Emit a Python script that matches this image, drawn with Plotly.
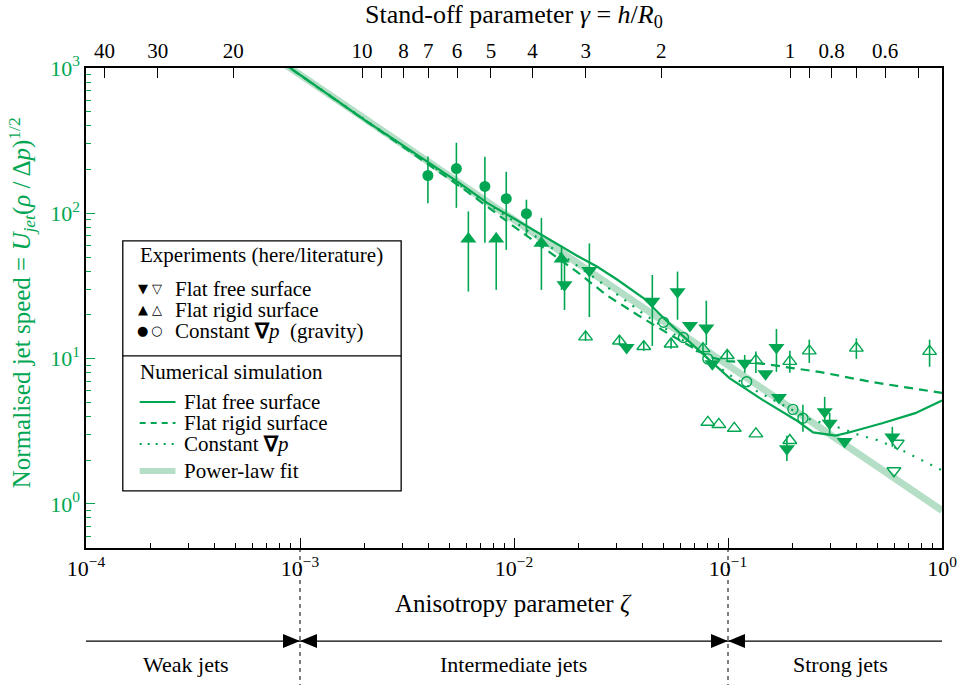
import math
import plotly.graph_objects as go

GREEN = "#00a651"
FIT = "#b4dfc6"
FONT = "Liberation Serif"

# ---------------- data ----------------
# power-law fit (U = 0.9 / zeta), end points
fit_zeta = [0.0008, 1.0]
fit_u = [1125, 0.9]

# numerical simulation: flat free surface
sim_free_zeta = [0.0008, 0.002, 0.003, 0.0055, 0.0075, 0.0096, 0.0129, 0.0197, 0.0244, 0.0303,
                 0.0404, 0.05, 0.0626, 0.0826, 0.1016, 0.145, 0.2074, 0.25, 0.318, 0.367,
                 0.525, 0.75, 1.0]
sim_free_u = [1130, 440, 296, 163, 118, 95, 74, 51, 43, 35,
              26, 19, 14, 9.75, 7.33, 5.2, 3.78, 3.1, 2.95, 3.1,
              3.59, 4.21, 5.15]

# numerical simulation: flat rigid surface
sim_rigid_zeta = [0.0008, 0.003, 0.00589, 0.01, 0.0197, 0.0272, 0.0379, 0.054, 0.0826, 0.1,
                  0.147, 0.2, 0.271, 0.468, 1.0]
sim_rigid_u = [1125, 290, 145, 81, 39.5, 27.2, 19.9, 14.5, 10.2, 9.6,
               9.2, 8.6, 8.07, 6.9, 5.8]

# numerical simulation: constant pressure gradient
sim_grav_zeta = [0.0008, 0.005, 0.01, 0.0244, 0.04, 0.0697, 0.1014, 0.1325, 0.244, 0.336,
                 0.408, 0.497, 0.661, 0.798, 1.0]
sim_grav_u = [1125, 175, 88, 35, 20.5, 11.8, 7.73, 6.1, 3.79, 3.32,
              2.98, 2.75, 2.31, 2.0, 1.70]

# experiments (here): flat free surface
free_here_zeta = [0.01722, 0.0225, 0.0336, 0.0443, 0.0581, 0.0664, 0.0792, 0.0845, 0.1197, 0.1497,
                  0.1684, 0.173, 0.1884, 0.283, 0.2986, 0.3506, 0.586]
free_here_u = [32.2, 40.4, 11.9, 24.8, 28.8, 16.9, 16.2, 9.2, 9.27, 7.85,
               11.9, 5.4, 2.39, 4.3, 3.58, 2.69, 2.89]
free_here_hi = [46.4, 62.0, 11.9, 37.6, 39.7, 16.9, 25.0, 9.2, 10.6, 7.85,
                16.0, 5.4, 2.94, 5.45, 4.23, 2.69, 3.39]
free_here_lo = [21.6, 19.3, 11.9, 12.2, 18.5, 16.9, 12.4, 9.2, 7.98, 7.85,
                8.1, 5.4, 1.97, 3.78, 3.0, 2.69, 2.47]

# experiments (literature): flat free surface
free_lit_zeta = [0.618, 0.596]
free_lit_u = [2.61, 1.69]

# experiments (here): flat rigid surface
rigid_here_zeta = [0.00612, 0.00826, 0.01343, 0.01668]
rigid_here_u = [66.4, 66.4, 62.3, 48.4]
rigid_here_hi = [103, 73.5, 93, 60]
rigid_here_lo = [28.9, 29.7, 29.7, 29.7]

# experiments (literature): flat rigid surface
rigid_lit_zeta = [0.0216, 0.0311, 0.0404, 0.0542, 0.0764, 0.0992, 0.135, 0.1945, 0.2398, 0.398,
                  0.875, 0.0805, 0.0906, 0.107, 0.135, 0.1945]
rigid_lit_u = [14.1, 13.2, 12.1, 12.6, 11.7, 10.5, 9.72, 9.57, 11.3, 11.8,
               11.2, 3.64, 3.52, 3.31, 3.03, 2.73]
rigid_lit_hi = [15.3, 14.3, 13.1, 13.7, 12.8, 11.4, 11.2, 11.3, 13.5, 13.8,
                13.5, 3.64, 3.52, 3.31, 3.03, 2.73]
rigid_lit_lo = [13.2, 12.3, 11.3, 11.7, 10.9, 9.8, 7.94, 7.99, 9.33, 9.95,
                8.78, 3.64, 3.52, 3.31, 3.03, 2.73]

# experiments (here): constant pressure gradient (gravity)
grav_here_zeta = [0.00396, 0.00538, 0.00731, 0.0092, 0.01143]
grav_here_u = [182, 203, 153, 126, 99.3]
grav_here_hi = [246, 306, 245, 193, 124]
grav_here_lo = [117, 109, 62.7, 56, 71]

# experiments (literature): constant pressure gradient
grav_lit_zeta = [0.05, 0.0619, 0.0805, 0.1222, 0.201, 0.2239]
grav_lit_u = [17.8, 13.96, 9.95, 6.92, 4.47, 3.89]
grav_lit_hi = [17.8, 13.96, 9.95, 6.92, 4.47, 4.8]
grav_lit_lo = [17.8, 13.96, 9.95, 6.92, 4.47, 3.14]

# axes
x_decades = [1e-4, 1e-3, 1e-2, 1e-1, 1e0]
x_decade_text = ["10<sup>\u22124</sup>", "10<sup>\u22123</sup>", "10<sup>\u22122</sup>",
                 "10<sup>\u22121</sup>", "10<sup>0</sup>"]
y_decades = [1e0, 1e1, 1e2, 1e3]
y_decade_text = ["10<sup>0</sup>", "10<sup>1</sup>", "10<sup>2</sup>", "10<sup>3</sup>"]
gamma_ticks = [40, 30, 20, 10, 9, 8, 7, 6, 5, 4, 3, 2, 1, 0.9, 0.8, 0.7, 0.6, 0.5]
gamma_text = ["40", "30", "20", "10", "", "8", "7", "6", "5", "4", "3", "2", "1", "", "0.8", "", "0.6", ""]
zeta_per_gamma = 0.195  # zeta = 0.195 * gamma^-2

# regime boundaries
regime_bounds = [1e-3, 1e-1]
regime_names = ["Weak jets", "Intermediate jets", "Strong jets"]

# ---------------- figure ----------------
W, H = 969, 685
L, R, T, B = 86, 947, 68.3, 548
X_RANGE = [-4, 0]


def px(x):
    return (x - L) / (R - L)


def py(y):
    return (B - y) / (B - T)


def zeta_to_paper(z):
    return (math.log10(z) - X_RANGE[0]) / (X_RANGE[1] - X_RANGE[0])


fig = go.Figure()

fig.add_trace(go.Scatter(x=fit_zeta, y=fit_u, mode="lines",
                         line=dict(color=FIT, width=7), hoverinfo="skip"))
fig.add_trace(go.Scatter(x=sim_rigid_zeta, y=sim_rigid_u, mode="lines",
                         line=dict(color=GREEN, width=2.2, dash="9px,6px"), hoverinfo="skip"))
fig.add_trace(go.Scatter(x=sim_grav_zeta, y=sim_grav_u, mode="lines",
                         line=dict(color=GREEN, width=2.2, dash="2px,8px"), hoverinfo="skip"))
fig.add_trace(go.Scatter(x=sim_free_zeta, y=sim_free_u, mode="lines",
                         line=dict(color=GREEN, width=2.2), hoverinfo="skip"))


def err(u, hi, lo):
    return dict(type="data", symmetric=False,
                array=[h - v for h, v in zip(hi, u)],
                arrayminus=[v - l for v, l in zip(u, lo)],
                color=GREEN, thickness=1.6, width=0)


fig.add_trace(go.Scatter(x=rigid_lit_zeta, y=rigid_lit_u, mode="markers",
                         marker=dict(symbol="triangle-up-open", size=12, color=GREEN, line=dict(width=1.4)),
                         error_y=err(rigid_lit_u, rigid_lit_hi, rigid_lit_lo)))
fig.add_trace(go.Scatter(x=grav_lit_zeta, y=grav_lit_u, mode="markers",
                         marker=dict(symbol="circle-open", size=10, color=GREEN, line=dict(width=1.4)),
                         error_y=err(grav_lit_u, grav_lit_hi, grav_lit_lo)))
fig.add_trace(go.Scatter(x=free_lit_zeta, y=free_lit_u, mode="markers",
                         marker=dict(symbol="triangle-down-open", size=12, color=GREEN, line=dict(width=1.4))))
fig.add_trace(go.Scatter(x=grav_here_zeta, y=grav_here_u, mode="markers",
                         marker=dict(symbol="circle", size=11, color=GREEN, line=dict(width=0)),
                         error_y=err(grav_here_u, grav_here_hi, grav_here_lo)))
fig.add_trace(go.Scatter(x=rigid_here_zeta, y=rigid_here_u, mode="markers",
                         marker=dict(symbol="triangle-up", size=14, color=GREEN, line=dict(width=0)),
                         error_y=err(rigid_here_u, rigid_here_hi, rigid_here_lo)))
fig.add_trace(go.Scatter(x=free_here_zeta, y=free_here_u, mode="markers",
                         marker=dict(symbol="triangle-down", size=14, color=GREEN, line=dict(width=0)),
                         error_y=err(free_here_u, free_here_hi, free_here_lo)))

# carrier trace for the top (stand-off) axis
fig.add_trace(go.Scatter(x=[1e-4, 1], y=[1, 1], xaxis="x2", mode="markers",
                         marker=dict(opacity=0), hoverinfo="skip"))

tickfont = dict(family=FONT, size=22, color="black")

fig.update_layout(
    width=W, height=H,
    margin=dict(l=L, r=W - R, t=T, b=H - B),
    plot_bgcolor="white", paper_bgcolor="white",
    showlegend=False,
    font=dict(family=FONT, color="black"),
    xaxis=dict(type="log", range=X_RANGE, tickmode="array", tickvals=x_decades,
               ticktext=x_decade_text, ticks="inside", ticklen=10, tickwidth=1,
               tickcolor="black", showline=True, linecolor="black", linewidth=1.5,
               showgrid=False, zeroline=False, tickfont=tickfont,
               minor=dict(tickmode="array",
                          tickvals=[k * d for d in x_decades[:-1] for k in range(2, 10)],
                          ticks="inside", ticklen=5, tickwidth=1, tickcolor="black",
                          showgrid=False)),
    xaxis2=dict(type="log", range=X_RANGE, overlaying="x", side="top", anchor="y",
                tickmode="array", tickvals=[zeta_per_gamma / g ** 2 for g in gamma_ticks],
                ticktext=gamma_text, ticks="inside", ticklen=10, tickwidth=1,
                tickcolor="black", showline=True, linecolor="black", linewidth=1.5,
                showgrid=False, zeroline=False, tickfont=dict(family=FONT, size=21, color="black")),
    yaxis=dict(type="log", range=[-0.304, 3], tickmode="array", tickvals=y_decades,
               ticktext=y_decade_text, ticks="inside", ticklen=9, tickwidth=1,
               tickcolor=GREEN, showline=True, linecolor="black", linewidth=1.5,
               mirror=True, showgrid=False, zeroline=False,
               tickfont=dict(family=FONT, size=22, color=GREEN),
               minor=dict(tickmode="array",
                          tickvals=[k * d for d in [0.1] + y_decades[:-1] for k in range(2, 10)],
                          ticks="inside", ticklen=5, tickwidth=1, tickcolor=GREEN,
                          showgrid=False)),
)

shapes = []
ann = []

# axis titles
ann.append(dict(text="Stand-off parameter <i>\u03b3</i> = <i>h</i>/<i>R</i><sub>0</sub>",
                x=px(516), y=py(16), font=dict(size=26)))
ann.append(dict(text="Anisotropy parameter <i>\u03b6</i>", x=px(516), y=py(603), font=dict(size=25)))
ann.append(dict(text="Normalised jet speed = <i>U<sub>jet</sub></i>(<i>\u03c1</i> / \u0394<i>p</i>)<sup>1/2</sup>",
                x=px(21), y=py(303), textangle=-90, font=dict(size=25, color=GREEN)))

# legend box
shapes.append(dict(type="rect", xref="paper", yref="paper", x0=px(123), x1=px(403),
                   y0=py(241), y1=py(491), line=dict(color="black", width=1.3),
                   fillcolor="white", layer="above"))
shapes.append(dict(type="line", xref="paper", yref="paper", x0=px(123), x1=px(403),
                   y0=py(356), y1=py(356), line=dict(color="black", width=1.3), layer="above"))

lf = dict(size=21, color="black")
ann.append(dict(text="Experiments (here/literature)", x=px(138), y=py(255), xanchor="left", font=lf))
exp_rows = [("\u25bc", "\u25bd", "Flat free surface", 289),
            ("\u25b2", "\u25b3", "Flat rigid surface", 310),
            ("\u25cf", "\u25cb", "Constant <b>\u2207</b><i>p</i>  (gravity)", 331)]
for fsym, osym, label, yy in exp_rows:
    ann.append(dict(text=fsym, x=px(143), y=py(yy), font=dict(size=13, family="DejaVu Sans")))
    ann.append(dict(text=osym, x=px(157), y=py(yy), font=dict(size=13, family="DejaVu Sans")))
    ann.append(dict(text=label, x=px(174), y=py(yy), xanchor="left", font=lf))

ann.append(dict(text="Numerical simulation", x=px(138), y=py(372), xanchor="left", font=lf))
sim_rows = [(dict(color=GREEN, width=2), "Flat free surface", 402),
            (dict(color=GREEN, width=2, dash="6px,5px"), "Flat rigid surface", 423),
            (dict(color=GREEN, width=2, dash="2px,6px"), "Constant <b>\u2207</b><i>p</i>", 444),
            (dict(color=FIT, width=6), "Power-law fit", 471)]
for style, label, yy in sim_rows:
    shapes.append(dict(type="line", xref="paper", yref="paper", x0=px(140), x1=px(176),
                       y0=py(yy), y1=py(yy), line=style, layer="above"))
    ann.append(dict(text=label, x=px(183), y=py(yy), xanchor="left", font=lf))

# regime bar below the axis
y_bar = py(641)
for b in regime_bounds:
    xb = zeta_to_paper(b)
    shapes.append(dict(type="line", xref="paper", yref="paper", x0=xb, x1=xb, y0=0, y1=py(685),
                       line=dict(color="black", width=1, dash="4px,4px")))
    shapes.append(dict(type="path", xref="paper", yref="paper", xsizemode="pixel", ysizemode="pixel",
                       xanchor=xb, yanchor=y_bar, path="M 0 0 L -17 7 L -17 -7 Z",
                       fillcolor="black", line=dict(width=0)))
    shapes.append(dict(type="path", xref="paper", yref="paper", xsizemode="pixel", ysizemode="pixel",
                       xanchor=xb, yanchor=y_bar, path="M 0 0 L 17 7 L 17 -7 Z",
                       fillcolor="black", line=dict(width=0)))
shapes.append(dict(type="line", xref="paper", yref="paper", x0=0, x1=1, y0=y_bar, y1=y_bar,
                   line=dict(color="black", width=1.3)))
for name, xc in zip(regime_names, [187, 516, 845]):
    ann.append(dict(text=name, x=px(xc), y=py(664), font=dict(size=22)))

for a in ann:
    a.setdefault("xref", "paper")
    a.setdefault("yref", "paper")
    a.setdefault("showarrow", False)
    a.setdefault("xanchor", "center")
    a.setdefault("yanchor", "middle")

fig.update_layout(shapes=shapes, annotations=ann)
fig.write_html("out.html")
